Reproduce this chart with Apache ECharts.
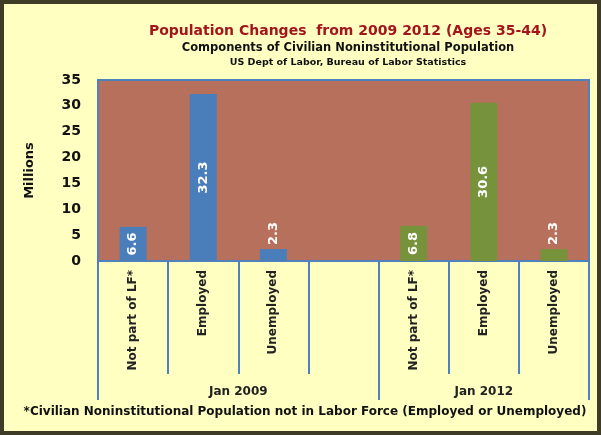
<!DOCTYPE html>
<html>
<head>
<meta charset="utf-8">
<script src="https://cdn.jsdelivr.net/npm/echarts@6/dist/echarts.min.js"></script>
<style>
  html, body { margin: 0; padding: 0; background: #fff; }
  #chart {
    width: 601px; height: 435px; box-sizing: border-box;
    border: 4px solid #3e3b26; background: #ffffc2;
  }
</style>
</head>
<body>
<div id="chart"></div>
<script>
// categories along the x axis (empty slot separates the two years)
var categories = ['Not part of LF*', 'Employed', 'Unemployed', '', 'Not part of LF*', 'Employed', 'Unemployed'];
var jan2009 = [6.6, 32.3, 2.3, null, null, null, null];
var jan2012 = [null, null, null, null, 6.8, 30.6, 2.3];
var groupNames = ['Jan 2009', 'Jan 2012'];
var groupEdges = [0, 4, 7];      // slot boundaries between groups
var groupCenters = [2, 5.5];     // where the group labels sit

var font = 'DejaVu Sans';

// put short bars' labels above the bar, the rest inside
function toItems(arr) {
    return arr.map(function (v) {
        if (v == null) return '-';
        var lbl = v < 4
            ? { position: 'top', rotate: 90, align: 'left', verticalAlign: 'middle', distance: 4 }
            : { position: 'inside', rotate: 90, align: 'center', verticalAlign: 'middle' };
        return { value: v, label: lbl };
    });
}

var chart = echarts.init(document.getElementById('chart'));

var barLabel = {
    show: true, color: '#fff', fontFamily: font, fontWeight: 'bold', fontSize: 13
};

var option = {
    animation: false,
    title: [
        { text: 'Population Changes  from 2009 2012 (Ages 35-44)', left: 339, top: 15, textAlign: 'center',
          textStyle: { color: '#a3151c', fontFamily: font, fontWeight: 'bold', fontSize: 14 } },
        { text: 'Components of Civilian Noninstitutional Population', left: 339, top: 33, textAlign: 'center',
          textStyle: { color: '#111', fontFamily: font, fontWeight: 'bold', fontSize: 11.5 } },
        { text: 'US Dept of Labor, Bureau of Labor Statistics', left: 339, top: 49, textAlign: 'center',
          textStyle: { color: '#111', fontFamily: font, fontWeight: 'bold', fontSize: 9.5 } },
        { text: '*Civilian Noninstitutional Population not in Labor Force (Employed or Unemployed)', left: 296, top: 397, textAlign: 'center',
          textStyle: { color: '#111', fontFamily: font, fontWeight: 'bold', fontSize: 12 } }
    ],
    grid: {
        left: 94, right: 8, top: 76, bottom: 170,
        show: true, backgroundColor: '#b6705c', borderColor: '#4f81bd', borderWidth: 2
    },
    xAxis: [{
        type: 'category',
        data: categories,
        axisLine: { lineStyle: { color: '#4f81bd', width: 2 } },
        axisTick: { show: true, interval: 0, length: 113, lineStyle: { color: '#4f81bd', width: 2 } },
        axisLabel: {
            interval: 0, rotate: 90, margin: 9,
            color: '#222', fontFamily: font, fontWeight: 'bold', fontSize: 12
        }
    }, {
        type: 'value',
        position: 'bottom',
        min: 0, max: 7,
        axisLine: { show: false },
        splitLine: { show: false },
        axisTick: { show: true, customValues: groupEdges, length: 139, lineStyle: { color: '#4f81bd', width: 2 } },
        axisLabel: {
            customValues: groupCenters, margin: 125,
            formatter: function (v) { return groupNames[groupCenters.indexOf(v)]; },
            color: '#222', fontFamily: font, fontWeight: 'bold', fontSize: 12
        }
    }],
    yAxis: {
        type: 'value',
        min: 0, max: 35, interval: 5,
        name: 'Millions', nameLocation: 'middle', nameRotate: 90, nameGap: 62,
        nameTextStyle: { color: '#111', fontFamily: font, fontWeight: 'bold', fontSize: 13 },
        axisLine: { show: false },
        axisTick: { show: false },
        splitLine: { show: false },
        axisLabel: { color: '#111', fontFamily: font, fontWeight: 'bold', fontSize: 14, margin: 17 }
    },
    series: [{
        name: 'Jan 2009', type: 'bar', barWidth: 27, barGap: '-100%',
        itemStyle: { color: '#4a7ebb' },
        label: barLabel,
        data: toItems(jan2009)
    }, {
        name: 'Jan 2012', type: 'bar', barWidth: 27, barGap: '-100%',
        itemStyle: { color: '#76933c' },
        label: barLabel,
        data: toItems(jan2012)
    }]
};

chart.setOption(option);
</script>
</body>
</html>
